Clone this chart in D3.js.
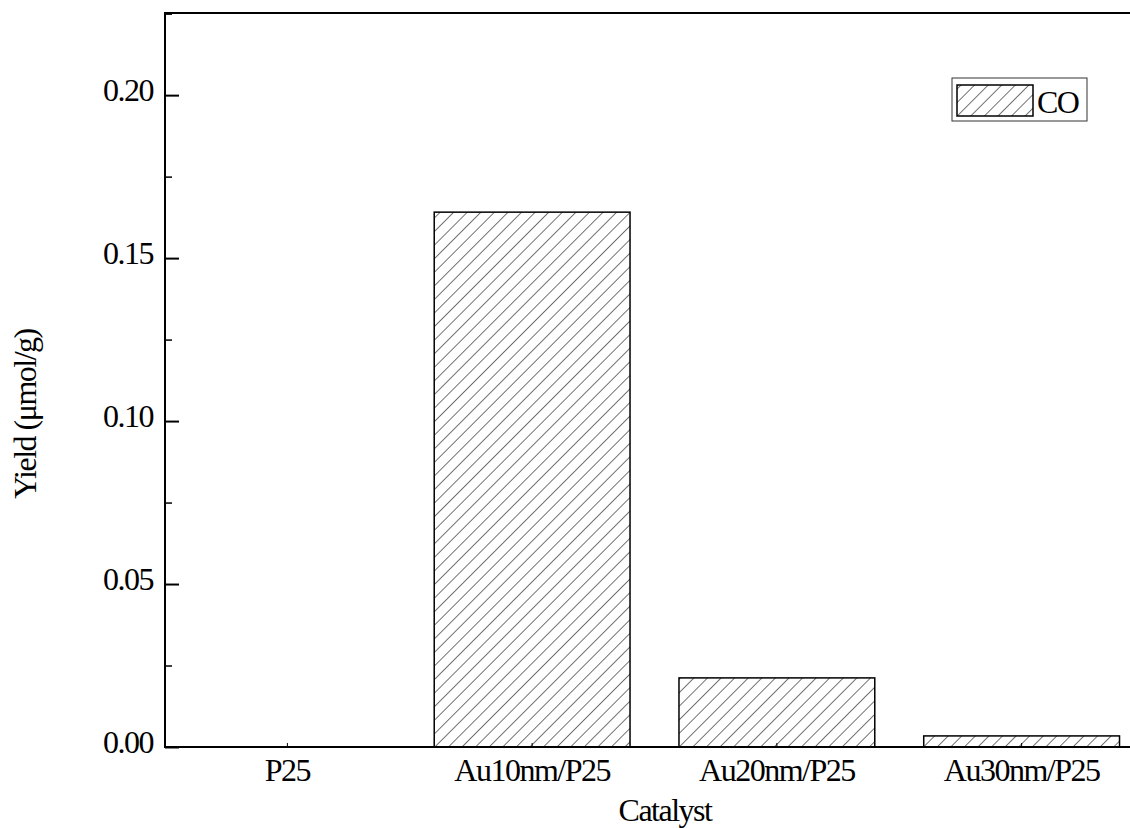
<!DOCTYPE html>
<html>
<head>
<meta charset="utf-8">
<script src="https://cdn.jsdelivr.net/npm/d3@7"></script>
<style>
  html, body { margin: 0; padding: 0; background: #fff; }
  svg { display: block; }
  text { font-family: "Liberation Serif", "Times New Roman", serif; fill: #000; letter-spacing: -1.5px; }
</style>
</head>
<body>
<svg id="chart" width="1130" height="828"></svg>
<script>
const categories = ["P25", "Au10nm/P25", "Au20nm/P25", "Au30nm/P25"];
const coValues = [0.0, 0.1641, 0.0212, 0.0034];
const yTickValues = [0.00, 0.05, 0.10, 0.15, 0.20];
const seriesName = "CO";

const FONT = '"Liberation Serif", "Times New Roman", serif';
const FS = 32;

const svg = d3.select("#chart");
const margin = { left: 165, top: 13, right: 1144, bottom: 747 };

const x = d3.scaleBand().domain(categories).range([margin.left, margin.right]).paddingInner(0.2).paddingOuter(0.1);
const y = d3.scaleLinear().domain([0, 0.2252]).range([margin.bottom, margin.top]);

// hatch pattern
const defs = svg.append("defs");
defs.append("pattern")
  .attr("id", "hatch")
  .attr("patternUnits", "userSpaceOnUse")
  .attr("width", 9.6).attr("height", 9.6)
  .attr("patternTransform", "rotate(45)")
  .append("line")
  .attr("x1", 0).attr("y1", -1).attr("x2", 0).attr("y2", 11)
  .attr("stroke", "#000").attr("stroke-width", 1.1);

// bars
svg.append("g").selectAll("rect")
  .data(categories.map((c, i) => ({ c, v: coValues[i] })))
  .join("rect")
  .attr("x", d => x(d.c))
  .attr("y", d => y(d.v))
  .attr("width", x.bandwidth())
  .attr("height", d => y(0) - y(d.v))
  .attr("fill", "url(#hatch)")
  .attr("stroke", d => d.v > 0 ? "#000" : "none")
  .attr("stroke-width", 1.5);

// frame
svg.append("rect")
  .attr("x", margin.left).attr("y", margin.top)
  .attr("width", margin.right - margin.left)
  .attr("height", margin.bottom - margin.top)
  .attr("fill", "none").attr("stroke", "#000").attr("stroke-width", 2);

// left axis (inward ticks)
const minorTicks = d3.range(0.025, 0.226, 0.05);
const leftAxis = d3.axisLeft(y).tickValues(yTickValues).tickFormat(d3.format(".2f")).tickSize(-14).tickPadding(12);
const gL = svg.append("g").attr("transform", `translate(${margin.left},0)`).call(leftAxis);
gL.select(".domain").remove();
gL.selectAll(".tick line").attr("stroke-width", 2);
gL.selectAll(".tick text").attr("font-size", FS).attr("dy", "0.16em")
  .style("font-family", FONT);
const gLm = svg.append("g").attr("transform", `translate(${margin.left},0)`)
  .call(d3.axisLeft(y).tickValues(minorTicks).tickSize(-7).tickFormat(""));
gLm.select(".domain").remove();
gLm.selectAll(".tick line").attr("stroke-width", 1.5);

// right axis (inward ticks)
const gR = svg.append("g").attr("transform", `translate(${margin.right},0)`)
  .call(d3.axisRight(y).tickValues(yTickValues).tickSize(-14).tickFormat(""));
gR.select(".domain").remove();
gR.selectAll(".tick line").attr("stroke-width", 2);
const gRm = svg.append("g").attr("transform", `translate(${margin.right},0)`)
  .call(d3.axisRight(y).tickValues(minorTicks).tickSize(-7).tickFormat(""));
gRm.select(".domain").remove();

// bottom axis
const gB = svg.append("g").attr("transform", `translate(0,${margin.bottom})`)
  .call(d3.axisBottom(x).tickSize(-4).tickPadding(34));
gB.select(".domain").remove();
gB.selectAll(".tick line").attr("stroke-width", 1);
gB.selectAll(".tick text").attr("font-size", FS).attr("dy", "0")
  .style("font-family", FONT);

// axis titles
svg.append("text")
  .attr("x", 665).attr("y", 821)
  .attr("text-anchor", "middle").attr("font-size", FS)
  .text("Catalyst");
svg.append("text")
  .attr("transform", "translate(36,414) rotate(-90)")
  .attr("text-anchor", "middle").attr("font-size", FS)
  .text("Yield (\u03bcmol/g)");

// legend
const lg = svg.append("g");
lg.append("rect").attr("x", 952).attr("y", 78).attr("width", 135).attr("height", 43)
  .attr("fill", "#fff").attr("stroke", "#333").attr("stroke-width", 1);
lg.append("rect").attr("x", 957).attr("y", 85).attr("width", 76).attr("height", 31)
  .attr("fill", "url(#hatch)").attr("stroke", "#000").attr("stroke-width", 1.5);
lg.append("text").attr("x", 1037).attr("y", 113).attr("font-size", FS).text(seriesName);
</script>
</body>
</html>
